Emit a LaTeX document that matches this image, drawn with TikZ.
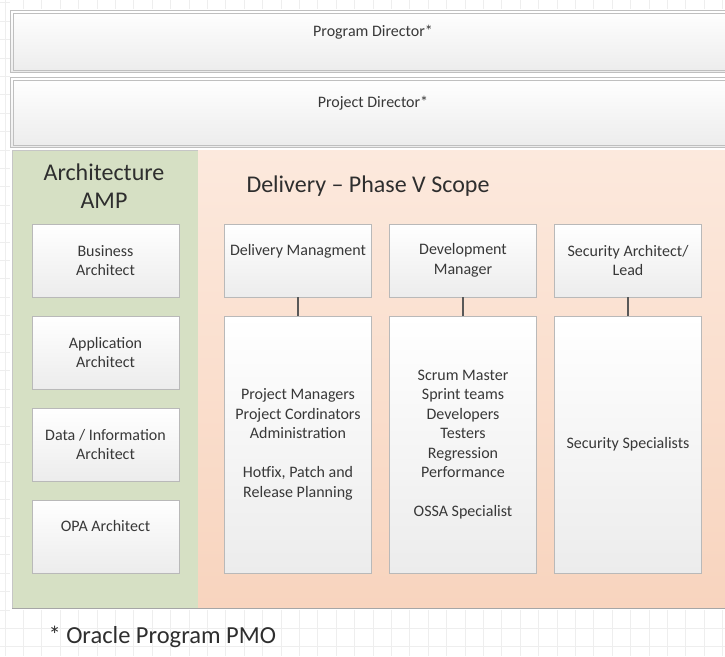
\documentclass[tikz,border=0pt]{standalone}
\usepackage{fontspec}
\setmainfont{Carlito}
\definecolor{archgreen}{RGB}{214,224,196}
\definecolor{peachtop}{RGB}{252,233,221}
\definecolor{peachbot}{RGB}{248,212,190}
\definecolor{boxbot}{RGB}{236,236,236}
\tikzset{
    gridline/.style={draw=gray!13, line width=0.8pt},
    orgbox/.style={draw=gray!55, line width=0.8pt, top color=white, bottom color=boxbot,
        minimum width=147pt, minimum height=73pt, align=center, inner sep=2pt, text=black!78,
        font=\fontsize{16pt}{19.5pt}\selectfont},
    listbox/.style={orgbox, minimum height=257pt},
    headbox/.style={orgbox, minimum width=725pt, draw=gray!50},
    toptext/.style={text depth=22pt},
    title/.style={font=\fontsize{24pt}{28pt}\selectfont, align=center, text=black!82},
    link/.style={draw=black!65, line width=1.5pt}
}

\begin{document}
\begin{tikzpicture}[x=1pt, y=-1pt]
    \useasboundingbox (0,0) rectangle (725,656);

    % spreadsheet grid, only the bare strips round the chart
    \foreach \x in {0,...,39}
    {
        \draw[gridline] ({5+18.4*\x},0) -- ++(0,9);
        \draw[gridline] ({5+18.4*\x},610) -- (5+18.4*\x,656);
    }
    \foreach \y in {0,...,35}
    {
        \draw[gridline] (0,{2.7+18.4*\y}) -- ++(10,0);
    }
    \foreach \y in {34,35}
    {
        \draw[gridline] (0,{2.7+18.4*\y}) -- ++(725,0);
    }
    \draw[gridline] (5,0) -- (5,656);

    \begin{scope}
    \clip (0,0) rectangle (725,656);
    % directors
    \node[headbox, minimum height=62pt, toptext] (prog) at (373,41.5) {Program Director*};
    \node[headbox, minimum height=70pt, toptext] (proj) at (373,112.5) {Project Director*};
    \foreach \b in {prog, proj}
    {
        \draw[gray!50, line width=0.8pt] ([xshift=2.8pt, yshift=2.8pt]\b.south west) rectangle ([xshift=-2.8pt, yshift=-2.8pt]\b.north east);
    }

    % panels
    \filldraw[fill=archgreen, draw=gray!45] (12,150) rectangle (198,608);
    \shade[top color=peachtop, bottom color=peachbot] (198,150) rectangle (726,608);
    \draw[gray!70, line width=1.2pt] (12,608.5) -- (726,608.5);
    \end{scope}

    \node[title] (archtitle) at (104,186) {Architecture\\AMP};
    \node[title, anchor=west] (deltitle) at (243,186) {Delivery -- Phase V Scope};

    % architecture column
    \node[orgbox] (busarch) at (105.5,260.5) {Business\\Architect};
    \node[orgbox] (apparch) at (105.5,352.5) {Application\\Architect};
    \node[orgbox] (dataarch) at (105.5,444.5) {Data / Information\\Architect};
    \node[orgbox, toptext] (opaarch) at (105.5,536.5) {OPA Architect};

    % delivery columns
    \node[orgbox, toptext] (delmgmt) at (298,260.5) {Delivery Managment};
    \node[orgbox] (devmgr) at (463,260.5) {Development\\Manager};
    \node[orgbox] (seclead) at (628,260.5) {Security Architect/\\Lead};

    \node[listbox] (dellist) at (298,444.5) {Project Managers\\Project Cordinators\\Administration\\[19.5pt]Hotfix, Patch and\\Release Planning};
    \node[listbox] (devlist) at (463,444.5) {Scrum Master\\Sprint teams\\Developers\\Testers\\Regression\\Performance\\[19.5pt]OSSA Specialist};
    \node[listbox] (seclist) at (628,444.5) {Security Specialists};

    \draw[link] (delmgmt) -- (dellist);
    \draw[link] (devmgr) -- (devlist);
    \draw[link] (seclead) -- (seclist);

    \node[title, anchor=west, font=\fontsize{24.5pt}{28pt}\selectfont] (note) at (45,637) {* Oracle Program PMO};
\end{tikzpicture}
\end{document}
